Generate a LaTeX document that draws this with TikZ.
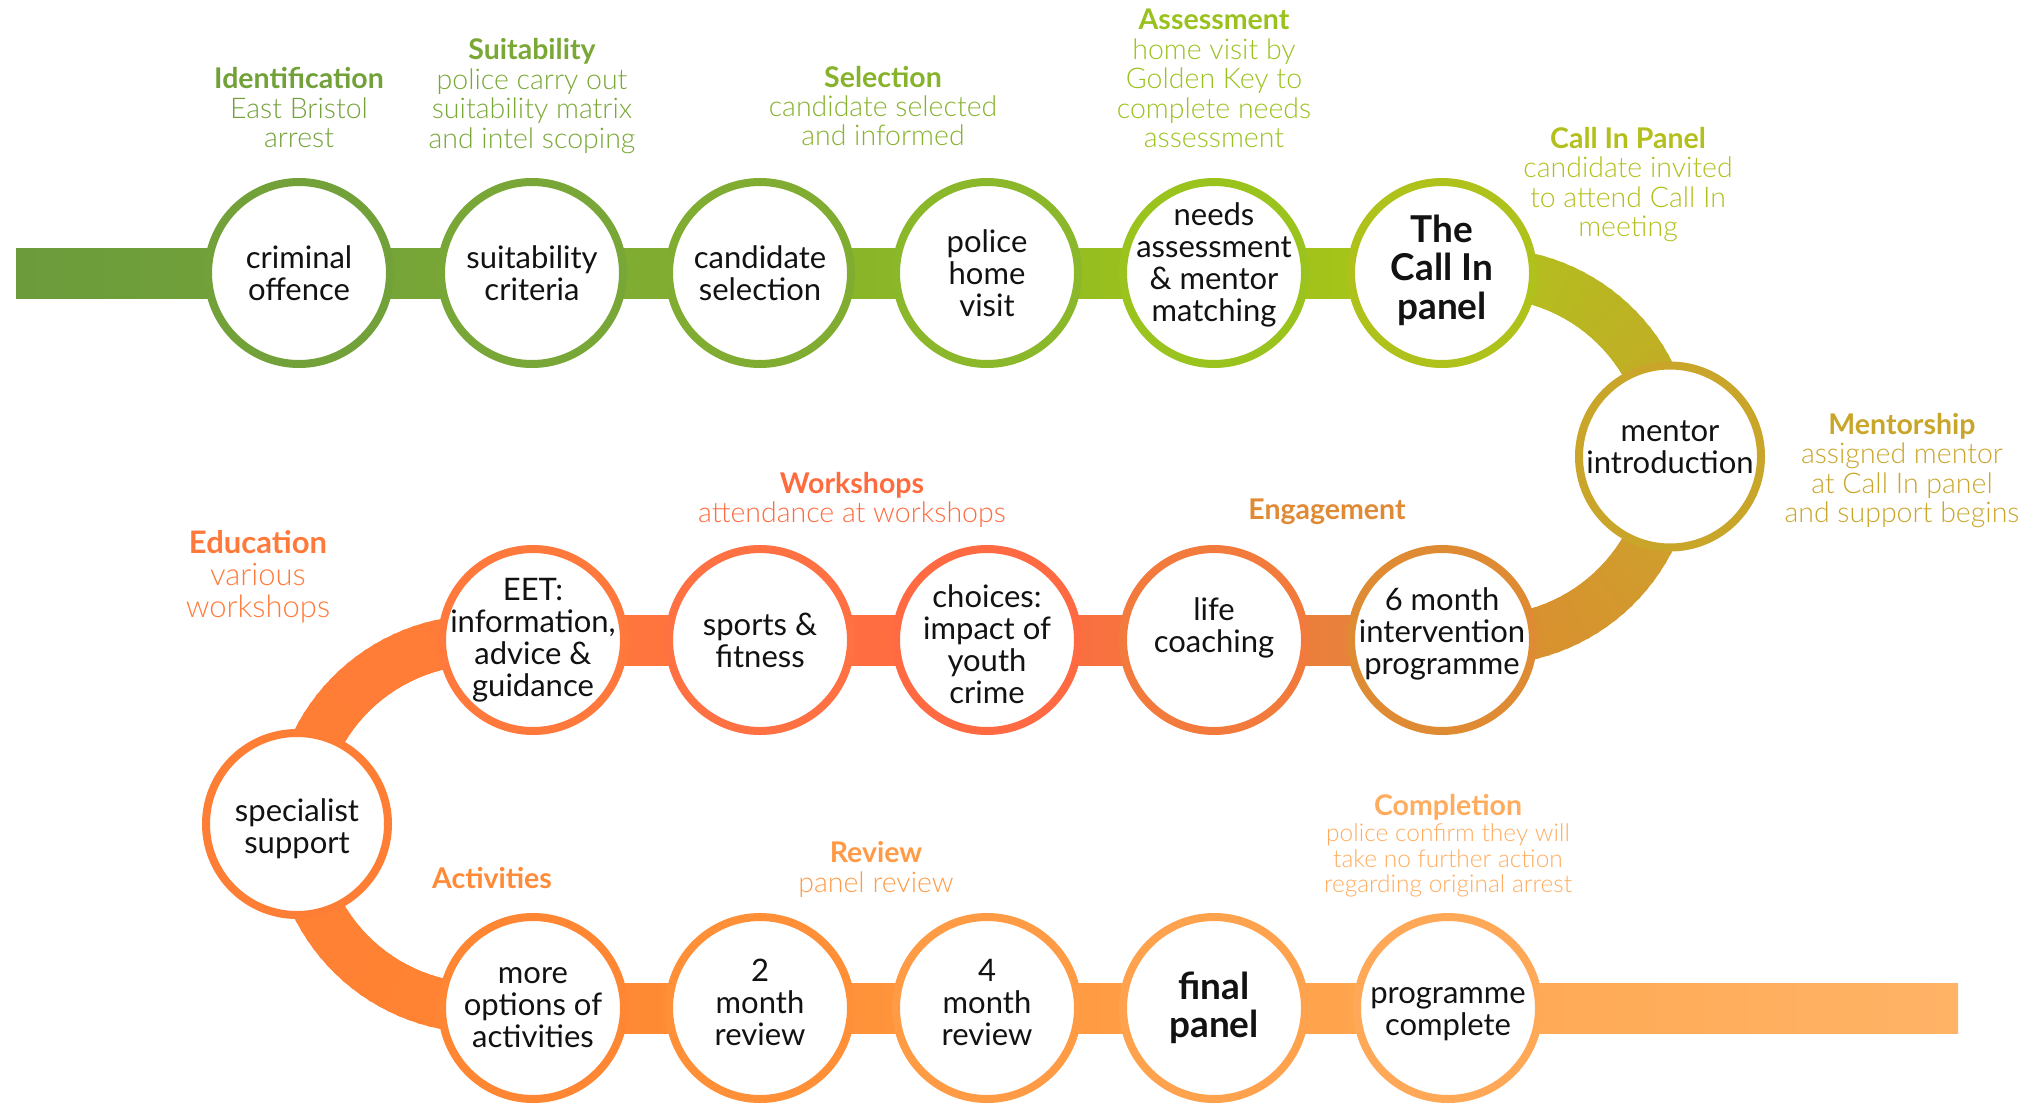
\documentclass[tikz,border=0pt]{standalone}
\usepackage{fontspec}
\setmainfont{Lato}
\newfontfamily\labfont{Lato Light}
\usetikzlibrary{calc,backgrounds}

% circle border colours
\definecolor{cCrim}{HTML}{72A13A}
\definecolor{cSuit}{HTML}{78A737}
\definecolor{cCand}{HTML}{80AD31}
\definecolor{cPol}{HTML}{8BB72A}
\definecolor{cNeed}{HTML}{9BC31D}
\definecolor{cCall}{HTML}{AFC21C}
\definecolor{cMent}{HTML}{C9A52A}
\definecolor{cSix}{HTML}{DE8B33}
\definecolor{cLife}{HTML}{F37A3D}
\definecolor{cChoi}{HTML}{FF6A42}
\definecolor{cSport}{HTML}{FF7043}
\definecolor{cEET}{HTML}{FF783C}
\definecolor{cSpec}{HTML}{FF7E36}
\definecolor{cMore}{HTML}{FF8633}
\definecolor{cTwo}{HTML}{FF9038}
\definecolor{cFour}{HTML}{FF9B45}
\definecolor{cFin}{HTML}{FFA24E}
\definecolor{cProg}{HTML}{FFA958}
% band colours
\definecolor{b0}{HTML}{6B9B3B}
\definecolor{b1}{HTML}{73A239}
\definecolor{b2}{HTML}{7BA934}
\definecolor{b3}{HTML}{85B12D}
\definecolor{b4}{HTML}{90BA24}
\definecolor{b5}{HTML}{9EC31A}
\definecolor{b6}{HTML}{AAC41A}
\definecolor{rA}{HTML}{B0C11C}
\definecolor{rB}{HTML}{C9A52A}
\definecolor{rC}{HTML}{DD8C31}
\definecolor{m6}{HTML}{E08838}
\definecolor{m5}{HTML}{F2783E}
\definecolor{m4}{HTML}{FF6A42}
\definecolor{m3}{HTML}{FF7040}
\definecolor{m2}{HTML}{FF7A3A}
\definecolor{lA}{HTML}{FF7C38}
\definecolor{lB}{HTML}{FF7F35}
\definecolor{lC}{HTML}{FF8432}
\definecolor{d1}{HTML}{FF8633}
\definecolor{d2}{HTML}{FF8E36}
\definecolor{d3}{HTML}{FF983F}
\definecolor{d4}{HTML}{FFA048}
\definecolor{d5}{HTML}{FFA852}
\definecolor{d6}{HTML}{FFB366}
% label colours
\definecolor{tIdent}{HTML}{72A13A}
\definecolor{tSuit}{HTML}{7AA837}
\definecolor{tSel}{HTML}{86B22C}
\definecolor{tAss}{HTML}{9AC21E}
\definecolor{tCall}{HTML}{B3BF1C}
\definecolor{tMent}{HTML}{C9A52A}
\definecolor{tEng}{HTML}{E08A35}
\definecolor{tWork}{HTML}{FF6B3F}
\definecolor{tEdu}{HTML}{FF7A3A}
\definecolor{tAct}{HTML}{FF8A38}
\definecolor{tRev}{HTML}{FF9B47}
\definecolor{tComp}{HTML}{FFAC5E}

\tikzset{
  stage/.style={circle, draw=#1, line width=8pt, fill=white, minimum size=182pt,
    inner sep=0pt},
  st/.style={align=center, text=black!93, inner sep=0pt, font=\fontsize{31}{32}\selectfont},
  bst/.style={align=center, text=black!93, inner sep=0pt, font=\bfseries\fontsize{37}{38.5}\selectfont},
  lab/.style={align=center, text=#1, inner sep=0pt, font=\labfont\fontsize{28.5}{29.4}\selectfont},
  biglab/.style={align=center, text=#1, inner sep=0pt, font=\labfont\fontsize{31}{32}\selectfont},
  smalllab/.style={align=center, text=#1, inner sep=0pt, font=\labfont\fontsize{24.5}{25.5}\selectfont},
  ttl/.style={font=\rmfamily\bfseries\fontsize{29}{29.4}\selectfont},
  bandseg/.style={line width=50pt},
}
\newcommand{\barseg}[4]{%
  \shade[left color=#3, right color=#4] ($(#1)+(0,-25)$) rectangle ($(#2)+(0,25)$);}
\newcommand{\ttl}[1]{{\rmfamily\bfseries #1}}

\begin{document}
\begin{tikzpicture}[x=1pt,y=-1pt]
\useasboundingbox (0,0) rectangle (2040,1103);

% ---- stages ----
\node[stage=cCrim, label={[st]center:{criminal\\offence}}] (crim) at (299,273) {};
\node[stage=cSuit, label={[st]center:{suitability\\criteria}}] (suit) at (532,273) {};
\node[stage=cCand, label={[st]center:{candidate\\selection}}] (cand) at (760,273) {};
\node[stage=cPol, label={[st]center:{police\\home\\visit}}] (pol) at (987,273) {};
\node[stage=cNeed, label={[st,yshift=8pt]center:{needs\\assessment\\\& mentor\\matching}}] (need) at (1214,273) {};
\node[stage=cCall, label={[bst,yshift=3pt]center:{The\\Call In\\panel}}] (call) at (1442,273) {};
\node[stage=cMent, label={[st,yshift=9pt]center:{mentor\\introduction}}] (ment) at (1670,456.5) {};
\node[stage=cSix, label={[st,yshift=6pt]center:{6 month\\intervention\\programme}}] (six) at (1442,640) {};
\node[stage=cLife, label={[st,yshift=12pt]center:{life\\coaching}}] (life) at (1214,640) {};
\node[stage=cChoi, label={[st,yshift=-4pt]center:{choices:\\impact of\\youth\\crime}}] (choi) at (987,640) {};
\node[stage=cSport, label={[st]center:{sports \&\\fitness}}] (sport) at (760,640) {};
\node[stage=cEET, label={[st]center:{EET:\\information,\\advice \&\\guidance}}] (eet) at (533,640) {};
\node[stage=cSpec, label={[st,yshift=-5pt]center:{specialist\\support}}] (spec) at (297,824) {};
\node[stage=cMore, label={[st]center:{more\\options of\\activities}}] (more) at (533,1008) {};
\node[stage=cTwo, label={[st,yshift=6pt]center:{2\\month\\review}}] (two) at (760,1008) {};
\node[stage=cFour, label={[st,yshift=6pt]center:{4\\month\\review}}] (four) at (987,1008) {};
\node[stage=cFin, label={[bst]center:{final\\panel}}] (fin) at (1214,1008) {};
\node[stage=cProg, label={[st,yshift=-6pt]center:{programme\\complete}}] (prog) at (1448,1008) {};

% ---- band end points ----
\coordinate (start) at (16,273);
\coordinate (rtop) at (1486.5,273);
\coordinate (rbot) at (1486.5,640);
\coordinate (ltop) at (481,640);
\coordinate (lbot) at (481,1008);
\coordinate (finish) at (1958,1008);

\begin{scope}[on background layer]
  % top row
  \barseg{start}{crim.center}{b0}{b1}
  \barseg{crim.center}{suit.center}{b1}{b2}
  \barseg{suit.center}{cand.center}{b2}{b3}
  \barseg{cand.center}{pol.center}{b3}{b4}
  \barseg{pol.center}{need.center}{b4}{b5}
  \barseg{need.center}{call.center}{b5}{b6}
  \barseg{call.center}{rtop}{b6}{rA}
  % right arc through mentor introduction
  \foreach \i in {0,...,61}{
    \pgfmathsetmacro{\a}{-93+3*\i}
    \pgfmathsetmacro{\b}{\a+4.5}
    \ifnum\i<31
      \pgfmathsetmacro{\p}{100*\i/31}
      \colorlet{segc}{rB!\p!rA}
    \else
      \pgfmathsetmacro{\p}{100*(\i-31)/30}
      \colorlet{segc}{rC!\p!rB}
    \fi
    \draw[bandseg, segc] ({1486.5+183.5*cos(\a)},{456.5+183.5*sin(\a)}) --
      ({1486.5+183.5*cos(\b)},{456.5+183.5*sin(\b)});
  }
  % middle row
  \barseg{six.center}{rbot}{m6}{rC}
  \barseg{life.center}{six.center}{m5}{m6}
  \barseg{choi.center}{life.center}{m4}{m5}
  \barseg{sport.center}{choi.center}{m3}{m4}
  \barseg{eet.center}{sport.center}{m2}{m3}
  \barseg{ltop}{eet.center}{lA}{m2}
  % left arc through specialist support
  \foreach \i in {0,...,61}{
    \pgfmathsetmacro{\a}{273-3*\i}
    \pgfmathsetmacro{\b}{\a-4.5}
    \ifnum\i<31
      \pgfmathsetmacro{\p}{100*\i/31}
      \colorlet{segc}{lB!\p!lA}
    \else
      \pgfmathsetmacro{\p}{100*(\i-31)/30}
      \colorlet{segc}{lC!\p!lB}
    \fi
    \draw[bandseg, segc] ({481+184*cos(\a)},{824+184*sin(\a)}) --
      ({481+184*cos(\b)},{824+184*sin(\b)});
  }
  % bottom row
  \barseg{lbot}{more.center}{lC}{d1}
  \barseg{more.center}{two.center}{d1}{d2}
  \barseg{two.center}{four.center}{d2}{d3}
  \barseg{four.center}{fin.center}{d3}{d4}
  \barseg{fin.center}{prog.center}{d4}{d5}
  \barseg{prog.center}{finish}{d5}{d6}
\end{scope}

% ---- labels ----
\node[lab=tIdent] (lident) at (299,107.5) {\ttl{Identification}\\East Bristol\\arrest};
\node[lab=tSuit] (lsuit) at (532,96) {\ttl{Suitability}\\police carry out\\suitability matrix\\and intel scoping};
\node[lab=tSel] (lsel) at (883,106) {\ttl{Selection}\\candidate selected\\and informed};
\node[lab=tAss] (lass) at (1214,78.5) {\ttl{Assessment}\\home visit by\\Golden Key to\\complete needs\\assessment};
\node[lab=tCall] (lcall) at (1628,184.5) {\ttl{Call In Panel}\\candidate invited\\to attend Call In\\meeting};
\node[lab=tMent] (lment) at (1902,470.5) {\ttl{Mentorship}\\assigned mentor\\at Call In panel\\and support begins};
\node[lab=tEng] (leng) at (1327,512) {\ttl{Engagement}};
\node[lab=tWork] (lwork) at (852,500) {\ttl{Workshops}\\attendance at workshops};
\node[biglab=tEdu] (ledu) at (258,577) {\ttl{Education}\\various\\workshops};
\node[lab=tAct] (lact) at (492,878) {\ttl{Activities}};
\node[lab=tRev] (lrev) at (876,869.5) {\ttl{Review}\\panel review};
\node[lab=tComp] (lcomp) at (1448,807.5) {\ttl{Completion}};
\node[smalllab=tComp] (lcompt) at (1448,860.5) {police confirm they will\\take no further action\\regarding original arrest};
\end{tikzpicture}
\end{document}
